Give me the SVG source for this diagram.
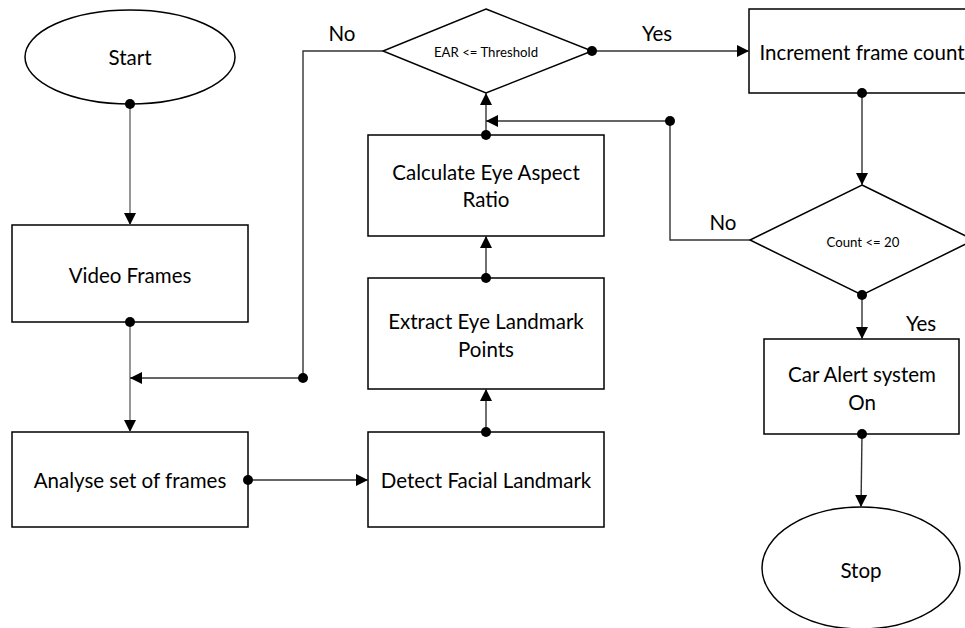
<svg xmlns="http://www.w3.org/2000/svg" width="965" height="628" viewBox="0 0 965 628">
  <style>
    .shape { fill: #ffffff; stroke: #000000; stroke-width: 1.5; }
    .conn { fill: none; stroke: #333333; stroke-width: 1.4; }
    .conn.light { stroke: #6a6a6a; }
    .dot { fill: #000000; }
    text { font-family: Lato, "Liberation Sans", sans-serif; font-size: 20.5px; fill: #000000; text-anchor: middle; dominant-baseline: central; }
    text.small { font-size: 13.2px; }
  </style>
  <defs>
    <marker id="arrow" markerUnits="userSpaceOnUse" markerWidth="14" markerHeight="14" viewBox="0 0 14 14" refX="13" refY="7" orient="auto">
      <path d="M1,1 L13,7 L1,13 Z" fill="#000000"/>
    </marker>
  </defs>

  <!-- Nodes -->
  <g id="start">
    <ellipse class="shape" cx="130" cy="57" rx="105" ry="47"/>
    <text x="130" y="57">Start</text>
  </g>
  <g id="video-frames">
    <rect class="shape" x="12" y="225" width="236" height="97"/>
    <text x="130" y="275">Video Frames</text>
  </g>
  <g id="analyse-frames">
    <rect class="shape" x="12" y="432" width="236" height="95"/>
    <text x="130" y="480">Analyse set of frames</text>
  </g>
  <g id="detect-landmark">
    <rect class="shape" x="368" y="432" width="236" height="95"/>
    <text x="486" y="480">Detect Facial Landmark</text>
  </g>
  <g id="extract-eye-points">
    <rect class="shape" x="368" y="278" width="236" height="111"/>
    <text x="486" y="321">Extract Eye Landmark</text>
    <text x="486" y="349">Points</text>
  </g>
  <g id="calculate-ear">
    <rect class="shape" x="368" y="135" width="236" height="101"/>
    <text x="486" y="172">Calculate Eye Aspect</text>
    <text x="486" y="199">Ratio</text>
  </g>
  <g id="ear-decision">
    <polygon class="shape" points="486,9 592,51 486,93 383,51"/>
    <text class="small" x="486" y="52">EAR &lt;= Threshold</text>
  </g>
  <g id="increment-count">
    <rect class="shape" x="749" y="9" width="226" height="84"/>
    <text x="862" y="52">Increment frame count</text>
  </g>
  <g id="count-decision">
    <polygon class="shape" points="862,185 974,240 862,295 750,240"/>
    <text class="small" x="863" y="242">Count &lt;= 20</text>
  </g>
  <g id="car-alert">
    <rect class="shape" x="764" y="339" width="195" height="95"/>
    <text x="862" y="374">Car Alert system</text>
    <text x="862" y="402">On</text>
  </g>
  <g id="stop">
    <ellipse class="shape" cx="861" cy="568" rx="99" ry="61"/>
    <text x="861" y="570">Stop</text>
  </g>

  <!-- Connectors -->
  <g id="connectors">
    <path class="conn light" d="M130,104 V225" marker-end="url(#arrow)"/>
    <path class="conn light" d="M130,322 V432" marker-end="url(#arrow)"/>
    <path class="conn" d="M383,51 H303 V378 H130" marker-end="url(#arrow)"/>
    <path class="conn" d="M248,480 H368" marker-end="url(#arrow)"/>
    <path class="conn" d="M486,432 V389" marker-end="url(#arrow)"/>
    <path class="conn" d="M486,278 V236" marker-end="url(#arrow)"/>
    <path class="conn" d="M486,135 V93" marker-end="url(#arrow)"/>
    <path class="conn" d="M592,51 H749" marker-end="url(#arrow)"/>
    <path class="conn" d="M862,93 V185" marker-end="url(#arrow)"/>
    <path class="conn" d="M750,240 H670 V121 H486" marker-end="url(#arrow)"/>
    <path class="conn" d="M862,295 V339" marker-end="url(#arrow)"/>
    <path class="conn" d="M862,434 L861,507" marker-end="url(#arrow)"/>

    <circle class="dot" cx="130" cy="104" r="5"/>
    <circle class="dot" cx="130" cy="322" r="5"/>
    <circle class="dot" cx="303" cy="378" r="5"/>
    <circle class="dot" cx="248" cy="480" r="5"/>
    <circle class="dot" cx="486" cy="432" r="5"/>
    <circle class="dot" cx="486" cy="278" r="5"/>
    <circle class="dot" cx="486" cy="135" r="5"/>
    <circle class="dot" cx="592" cy="51" r="5"/>
    <circle class="dot" cx="862" cy="93" r="5"/>
    <circle class="dot" cx="670" cy="121" r="5"/>
    <circle class="dot" cx="862" cy="295" r="5"/>
    <circle class="dot" cx="862" cy="434" r="5"/>

    <text x="342" y="33">No</text>
    <text x="657" y="33">Yes</text>
    <text x="723" y="222">No</text>
    <text x="921" y="323">Yes</text>
  </g>
</svg>
